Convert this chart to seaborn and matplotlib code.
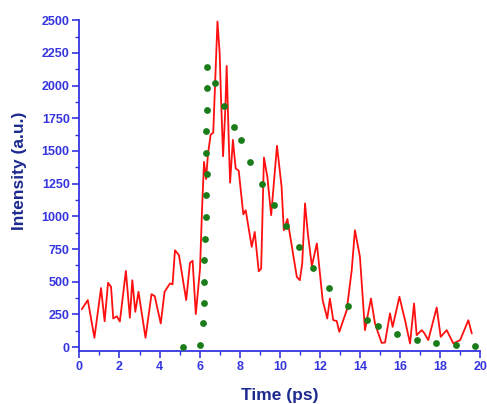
import numpy as np
import pandas as pd
import matplotlib
matplotlib.use("Agg")
import matplotlib.pyplot as plt
from matplotlib.ticker import MultipleLocator
import seaborn as sns

# Measured time-resolved signal (noisy trace)
time_ps = [0.12, 0.42, 0.75, 1.08, 1.26, 1.43, 1.58, 1.69, 1.87, 2.02, 2.32, 2.52,
           2.64, 2.79, 2.95, 3.30, 3.60, 3.76, 4.06, 4.25, 4.52, 4.65, 4.77, 4.97,
           5.33, 5.52, 5.65, 5.81, 6.02, 6.12, 6.22, 6.32, 6.42, 6.55, 6.68, 6.89,
           7.00, 7.06, 7.17, 7.28, 7.35, 7.45, 7.52, 7.66, 7.80, 7.95, 8.18, 8.30,
           8.60, 8.75, 8.95, 9.07, 9.21, 9.38, 9.57, 9.86, 10.09, 10.20, 10.38,
           10.85, 11.00, 11.12, 11.26, 11.40, 11.60, 11.85, 12.14, 12.37, 12.50,
           12.67, 12.84, 12.97, 13.34, 13.59, 13.75, 14.00, 14.25, 14.55, 14.75,
           15.08, 15.25, 15.50, 15.63, 15.97, 16.25, 16.50, 16.70, 16.83, 17.08,
           17.20, 17.41, 17.83, 18.03, 18.33, 18.66, 19.00, 19.41, 19.58]
intensity = [290, 360, 72, 452, 198, 492, 461, 219, 236, 196, 583, 225,
             512, 270, 423, 72, 405, 390, 181, 423, 487, 480, 741, 703,
             360, 645, 660, 252, 600, 1050, 1417, 1285, 1480, 1625, 1640, 2490,
             2250, 1940, 1460, 1812, 2150, 1600, 1258, 1585, 1366, 1350, 1015, 1047,
             767, 881, 580, 600, 1450, 1302, 1009, 1540, 1226, 894, 980,
             537, 512, 640, 1099, 869, 620, 793, 359, 219, 372,
             206, 200, 117, 283, 589, 894, 690, 130, 372, 181,
             33, 35, 258, 155, 385, 206, 28, 334, 92, 130,
             110, 54, 303, 79, 130, 28, 54, 206, 105]

# Model curve (rise and decay)
fit_time = [5.15, 6.02, 6.15, 6.22, 6.22, 6.23, 6.27, 6.30, 6.32, 6.35, 6.32, 6.32,
            6.35, 6.35, 6.35, 6.76, 7.23, 7.71, 8.05, 8.53, 9.10, 9.70, 10.30,
            10.96, 11.66, 12.47, 13.42, 14.37, 14.89, 15.87, 16.83, 17.80, 18.78, 19.75]
fit_intensity = [0, 15, 181, 334, 500, 665, 830, 996, 1162, 1322, 1486, 1654,
                 1817, 1982, 2143, 2016, 1845, 1684, 1583, 1415, 1251, 1085, 926,
                 767, 609, 456, 316, 206, 161, 97, 54, 28, 15, 8]

sns.set_theme(style="white")
plt.rcParams["font.family"] = ["Liberation Sans", "DejaVu Sans"]

axis_blue = "#3535e0"
label_navy = "#1d2a8e"

fig = plt.figure(figsize=(4.87, 4.04), dpi=100)
ax = fig.add_axes([0.163, 0.131, 0.823, 0.819])

trace = pd.DataFrame({"t": time_ps, "I": intensity})
fit = pd.DataFrame({"t": fit_time, "I": fit_intensity})

sns.lineplot(data=trace, x="t", y="I", ax=ax, color="#ff1010", linewidth=1.3,
             estimator=None, sort=False)
sns.scatterplot(data=fit, x="t", y="I", ax=ax, color="#1a7d1a", s=24,
                linewidth=0, zorder=3)

ax.set_xlim(0, 20)
ax.set_ylim(-30, 2500)
ax.xaxis.set_major_locator(MultipleLocator(2))
ax.xaxis.set_minor_locator(MultipleLocator(1))
ax.yaxis.set_major_locator(MultipleLocator(250))
ax.yaxis.set_minor_locator(MultipleLocator(125))

for side in ("top", "right"):
    ax.spines[side].set_visible(False)
for side in ("left", "bottom"):
    ax.spines[side].set_color(axis_blue)
    ax.spines[side].set_linewidth(1.3)

ax.tick_params(axis="both", which="major", direction="out", length=5, width=1.2,
               color=axis_blue, labelcolor=axis_blue, labelsize=9, pad=2)
ax.tick_params(axis="both", which="minor", direction="out", length=3, width=1.0,
               color=axis_blue)
ax.tick_params(axis="x", which="both", bottom=True)
ax.tick_params(axis="y", which="both", left=True)
for lbl in ax.get_xticklabels() + ax.get_yticklabels():
    lbl.set_fontweight("bold")

ax.set_xlabel("Time (ps)", fontsize=12.5, fontweight="bold", color=label_navy,
              va="center")
ax.xaxis.set_label_coords(0.5, -0.133)
ax.set_ylabel("Intensity (a.u.)", fontsize=12.5, fontweight="bold", color=label_navy,
              va="center")
ax.yaxis.set_label_coords(-0.15, 0.545)
ax.grid(False)

fig.savefig("out.png", dpi=100, facecolor="white")
